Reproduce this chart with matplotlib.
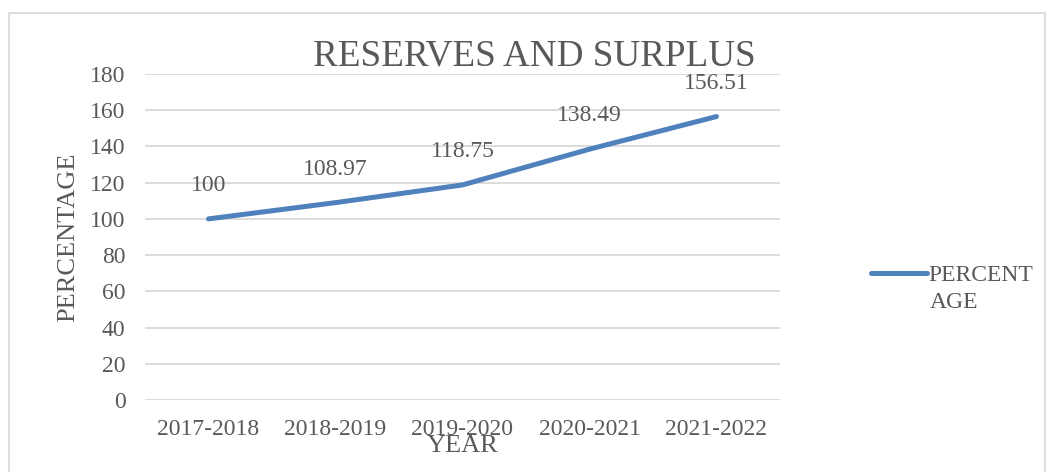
import matplotlib.pyplot as plt
from matplotlib.patches import Rectangle

# --- data ---
years = ['2017-2018', '2018-2019', '2019-2020', '2020-2021', '2021-2022']
percentage = [100, 108.97, 118.75, 138.49, 156.51]
labels = ['100', '108.97', '118.75', '138.49', '156.51']

grey = '#595959'
blue = '#4F81BD'

plt.rcParams['font.family'] = ['Liberation Serif', 'DejaVu Serif']

fig = plt.figure(figsize=(10.47, 4.72), dpi=100)
ax = fig.add_axes([145 / 1047, 1 - 400 / 472, 635 / 1047, 326 / 472])

x = list(range(len(years)))
line, = ax.plot(x, percentage, color=blue, linewidth=3.6, solid_capstyle='round')

for xi, v, lab in zip(x, percentage, labels):
    ax.annotate(lab, (xi, v), xytext=(0, 24), textcoords='offset points',
                ha='center', va='center', fontsize=17, color=grey)

ax.set_xlim(-0.5, 4.5)
ax.set_ylim(0, 180)
ax.set_yticks(range(0, 181, 20))
ax.set_xticks(x)
ax.set_xticklabels(years)
ax.tick_params(axis='both', length=0, labelsize=17, labelcolor=grey)
ax.tick_params(axis='x', pad=14)
ax.tick_params(axis='y', pad=14)
ax.grid(axis='y', color='#D9D9D9', linewidth=1.3)
ax.set_axisbelow(True)
for s in ax.spines.values():
    s.set_visible(False)

ax.set_ylabel('PERCENTAGE', fontsize=19, color=grey, labelpad=8)
ax.set_xlabel('YEAR', fontsize=19, color=grey, labelpad=-4)
fig.text(534 / 1047, 1 - 56 / 472, 'RESERVES AND SURPLUS', fontsize=26.7,
         color=grey, ha='center', va='center')

# legend (label wraps onto a second line like the original)
fig.legend([line], ['PERCENT'], loc='upper left',
           bbox_to_anchor=(862 / 1047, 1 - 255 / 472), frameon=False,
           fontsize=17, labelcolor=grey, handlelength=2.35, handletextpad=0.05,
           borderaxespad=0)
fig.text(930 / 1047, 1 - 302 / 472, 'AGE', fontsize=17, color=grey,
         ha='left', va='center')

# chart border
fig.patches.append(Rectangle((9 / 1047, -0.1), 1036 / 1047, 1.1 - 13 / 472,
                             transform=fig.transFigure, fill=False,
                             edgecolor='#D9D9D9', linewidth=1.3))

fig.savefig('out.png', dpi=100)
